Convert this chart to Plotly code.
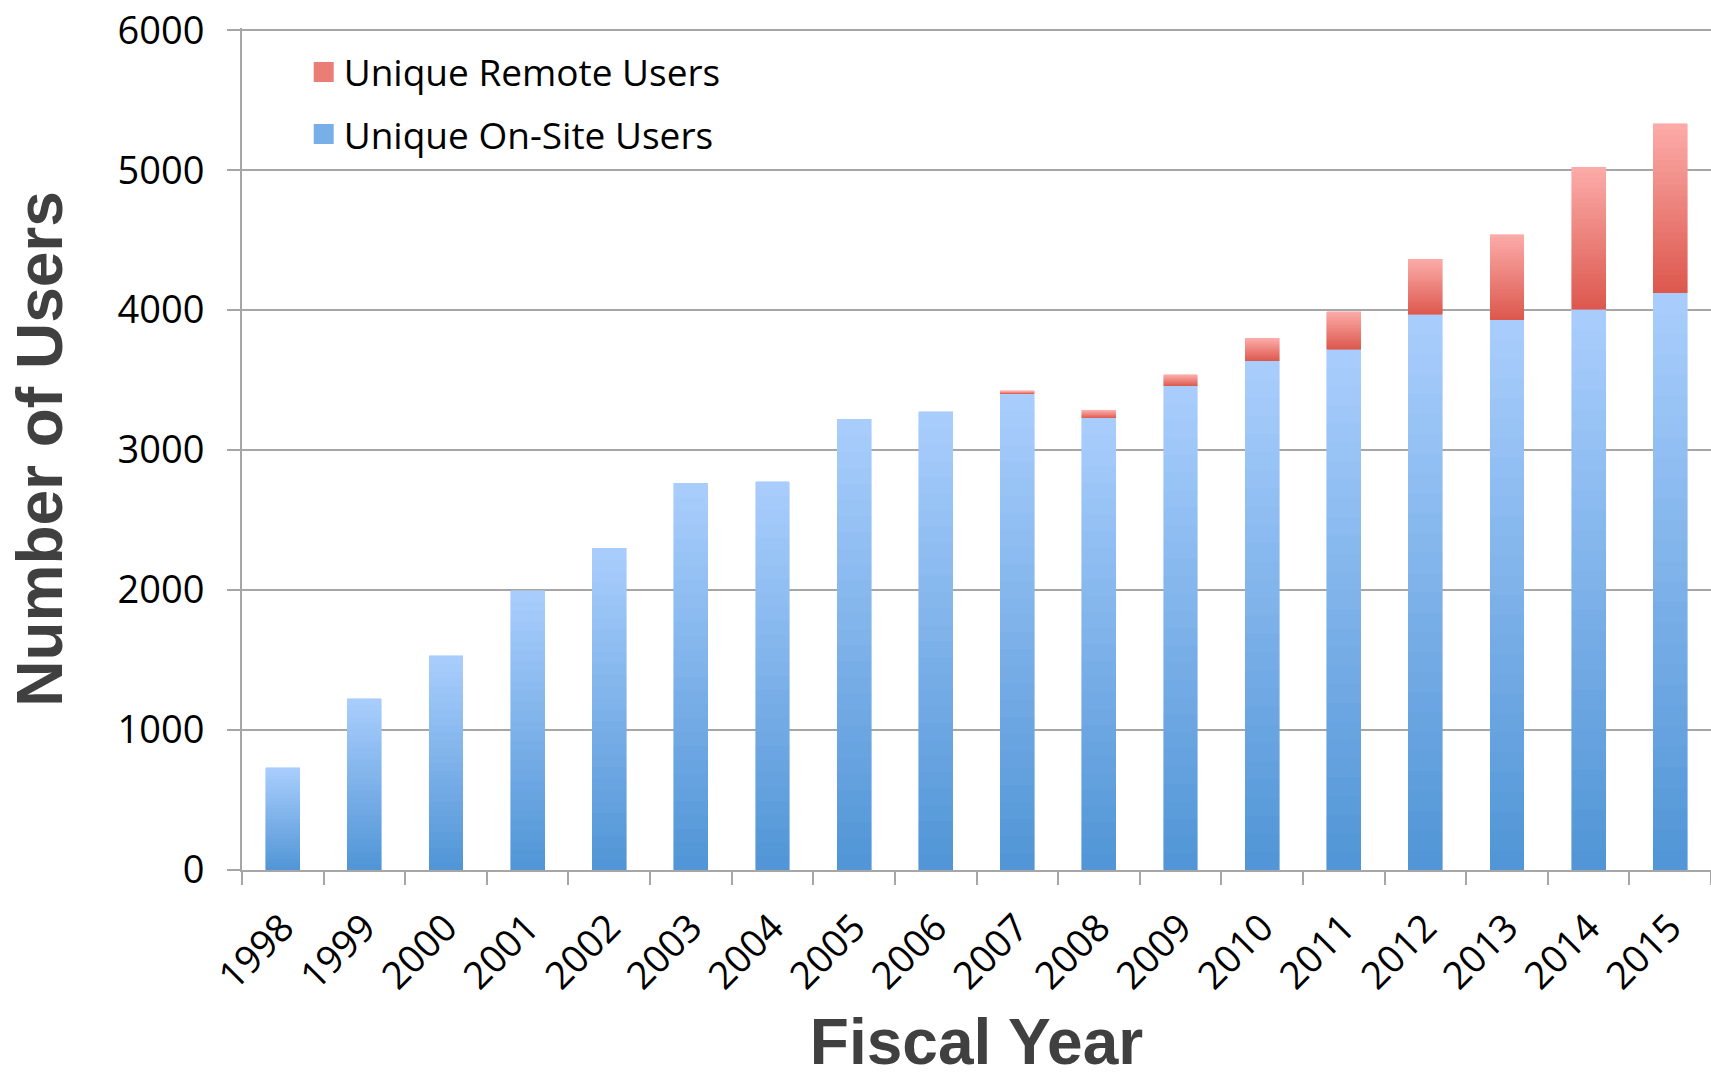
import plotly.graph_objects as go

years = [str(y) for y in range(1998, 2016)]
onsite = [730, 1225, 1530, 1995, 2300, 2765, 2775, 3220, 3275, 3405, 3230, 3460, 3638, 3722, 3970, 3933, 4005, 4125]
remote = [0, 0, 0, 0, 0, 0, 0, 0, 0, 18, 54, 77, 160, 268, 393, 606, 1015, 1207]

series = [
    ("Unique On-Site Users", onsite, (80, 149, 214), (170, 206, 253)),
    ("Unique Remote Users", remote, (220, 88, 77), (252, 171, 169)),
]

N = 28  # gradient slices per bar (visual shading only)


def mix(c0, c1, t):
    return "rgb(%d,%d,%d)" % tuple(round(a + (b - a) * t) for a, b in zip(c0, c1))


fig = go.Figure()
for name, vals, c_bot, c_top in series:
    for k in range(N):
        col = mix(c_bot, c_top, (k + 0.5) / N)
        fig.add_trace(go.Bar(
            x=years, y=[v / N for v in vals],
            marker=dict(color=col, line=dict(color=col, width=[0.6 if v > 0 else 0 for v in vals])),
            width=0.415, showlegend=False, hoverinfo="skip",
            legendgroup=name,
        ))

# legend entries
for rank, (name, vals, c_bot, c_top) in enumerate(reversed(series)):
    col = mix(c_bot, c_top, 0.45)
    fig.add_trace(go.Scatter(
        x=[None], y=[None], mode="markers", name=name,
        marker=dict(symbol="square", size=16, color=col, line=dict(color=col, width=4)),
        legendgroup=name, legendrank=rank + 1, showlegend=True,
    ))

tick_font = dict(family="Open Sans, Lato, sans-serif", size=38, color="black")
title_font = dict(family="Liberation Sans, Arial, sans-serif", size=64, color="#404040")

fig.update_layout(
    width=1711, height=1078,
    margin=dict(l=242, r=0, t=28, b=208),
    paper_bgcolor="white", plot_bgcolor="white",
    barmode="stack", bargap=0.585,
    showlegend=True,
    legend=dict(
        x=0.042, y=0.984, xanchor="left", yanchor="top",
        font=dict(family="Open Sans, Lato, sans-serif", size=37, color="black"),
        bgcolor="rgba(0,0,0,0)", tracegroupgap=11, traceorder="grouped",
        itemsizing="trace",
    ),
    xaxis=dict(
        type="category", tickangle=-45, tickfont=tick_font, automargin=False,
        showline=True, linecolor="#a6a6a6", linewidth=2,
        ticks="outside", tickson="boundaries", ticklen=13, tickcolor="#a6a6a6", tickwidth=2,
        showgrid=False, ticklabelstandoff=18,
        title=dict(text="<b>Fiscal Year</b>", font=title_font, standoff=50),
    ),
    yaxis=dict(
        range=[0, 6016], tickvals=[0, 1000, 2000, 3000, 4000, 5000, 6000], tickfont=tick_font,
        automargin=False,
        showline=True, linecolor="#a6a6a6", linewidth=2,
        ticks="outside", ticklen=13, tickcolor="#a6a6a6", tickwidth=2,
        showgrid=True, gridcolor="#a6a6a6", gridwidth=2,
        zeroline=False, ticklabelstandoff=15, ticklabeloverflow="allow",
        title=dict(text="<b>Number of Users</b>", font=title_font, standoff=34),
    ),
)

fig.write_html("out.html")
